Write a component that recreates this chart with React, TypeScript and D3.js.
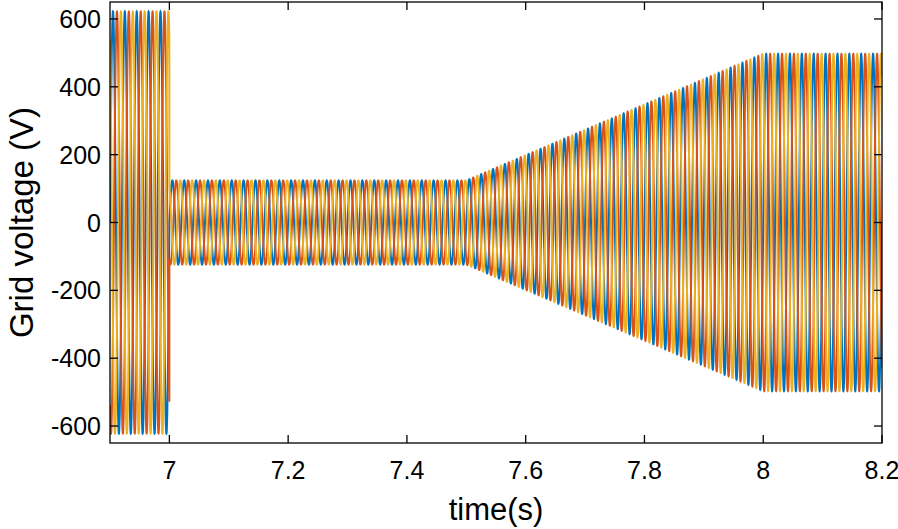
import React from "react";
import * as d3 from "d3";

// Envelope (time in s, peak amplitude in V)
const envTimes = [6.9, 7.0, 7.0, 7.5, 8.0, 8.2];
const envAmps = [622, 622, 124, 124, 497, 497];
// Three-phase grid: frequency and phase shifts
const gridFreq = 50;
const phaseShiftsDeg = [0, -120, 120];
const phaseColors = ["#0072BD", "#D95319", "#EDB120"];
const xTicks = [7, 7.2, 7.4, 7.6, 7.8, 8, 8.2];
const yTicks = [-600, -400, -200, 0, 200, 400, 600];
const xDomain = [6.9, 8.2];
const yDomain = [-650, 650];
const sampleStep = 0.0001;

const W = 898;
const H = 529;
const M = { left: 110, right: 16, top: 2, bottom: 86 };

function envelope(t: number): number {
  for (let i = envTimes.length - 1; i >= 0; i--) {
    if (t >= envTimes[i]) {
      if (i === envTimes.length - 1) return envAmps[i];
      const t0 = envTimes[i], t1 = envTimes[i + 1];
      if (t1 === t0) return envAmps[i + 1];
      const f = (t - t0) / (t1 - t0);
      return envAmps[i] + f * (envAmps[i + 1] - envAmps[i]);
    }
  }
  return envAmps[0];
}

export default function App() {
  const x = d3.scaleLinear().domain(xDomain).range([M.left, W - M.right]);
  const y = d3.scaleLinear().domain(yDomain).range([H - M.bottom, M.top]);
  const n = Math.round((xDomain[1] - xDomain[0]) / sampleStep);
  const times = d3.range(n + 1).map((i) => xDomain[0] + i * sampleStep);
  const line = d3
    .line<[number, number]>()
    .x((d) => x(d[0]))
    .y((d) => y(d[1]));
  const series = phaseShiftsDeg.map((ph) =>
    times.map((t) => [t, envelope(t) * Math.sin(2 * Math.PI * gridFreq * t + (ph * Math.PI) / 180)] as [number, number])
  );
  const x0 = M.left, x1 = W - M.right, y0 = M.top, y1 = H - M.bottom;
  const tl = 8;
  const font = "Liberation Sans, Arial, Helvetica, sans-serif";
  return (
    <svg width={W} height={H} style={{ position: "absolute", left: 0, top: 0, background: "#fff" }} fontFamily={font}>
      <defs>
        <clipPath id="plotclip">
          <rect x={x0} y={y0} width={x1 - x0} height={y1 - y0} />
        </clipPath>
      </defs>
      <g clipPath="url(#plotclip)">
        {series.map((s, i) => (
          <path key={i} d={line(s) || ""} fill="none" stroke={phaseColors[i]} strokeWidth={2} />
        ))}
      </g>
      <rect x={x0} y={y0} width={x1 - x0} height={y1 - y0} fill="none" stroke="#000" strokeWidth={1.3} />
      {xTicks.map((t) => (
        <g key={"x" + t}>
          <line x1={x(t)} x2={x(t)} y1={y1} y2={y1 - tl} stroke="#000" strokeWidth={1.3} />
          <line x1={x(t)} x2={x(t)} y1={y0} y2={y0 + tl} stroke="#000" strokeWidth={1.3} />
          <text x={x(t)} y={479} textAnchor="middle" fontSize={25} fill="#000">
            {String(t)}
          </text>
        </g>
      ))}
      {yTicks.map((t) => (
        <g key={"y" + t}>
          <line x1={x0} x2={x0 + tl} y1={y(t)} y2={y(t)} stroke="#000" strokeWidth={1.3} />
          <line x1={x1} x2={x1 - tl} y1={y(t)} y2={y(t)} stroke="#000" strokeWidth={1.3} />
          <text x={101} y={y(t) + 9} textAnchor="end" fontSize={25} fill="#000">
            {String(t)}
          </text>
        </g>
      ))}
      <text x={(x0 + x1) / 2} y={520} textAnchor="middle" fontSize={31} fill="#000">
        time(s)
      </text>
      <text
        transform={`translate(33,${(y0 + y1) / 2}) rotate(-90)`}
        textAnchor="middle"
        fontSize={33}
        fill="#000"
      >
        Grid voltage (V)
      </text>
    </svg>
  );
}
